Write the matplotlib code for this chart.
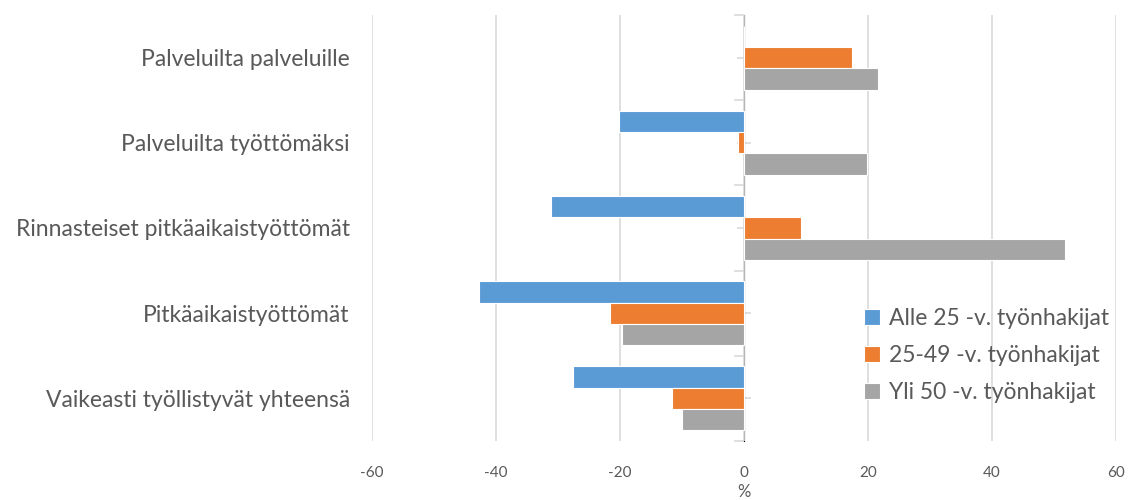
import matplotlib
matplotlib.use("Agg")
import matplotlib.pyplot as plt
import numpy as np

categories = ["Palveluilta palveluille", "Palveluilta työttömäksi",
              "Rinnasteiset pitkäaikaistyöttömät", "Pitkäaikaistyöttömät",
              "Vaikeasti työllistyvät yhteensä"]
series_names = ["Alle 25 -v. työnhakijat", "25-49 -v. työnhakijat", "Yli 50 -v. työnhakijat"]
alle25 = [0.0, -20.1, -31.1, -42.7, -27.6]
v25_49 = [17.4, -1.0, 9.2, -21.6, -11.6]
yli50 = [21.6, 19.9, 51.7, -19.6, -10.0]
x_ticks = [-60, -40, -20, 0, 20, 40, 60]
x_label = "%"

colors = ["#5B9BD5", "#ED7D31", "#A5A5A5"]
text_color = "#595959"
grid_color = "#D9D9D9"
font = ["Lato", "DejaVu Sans"]
plt.rcParams["font.family"] = font

fig = plt.figure(figsize=(11.28, 5.0), dpi=100)
ax = fig.add_axes([372/1128, 1-441/500, (1116-372)/1128, (441-15)/500])

y = np.arange(len(categories))
h = 0.25
for i, (vals, name) in enumerate(zip([alle25, v25_49, yli50], series_names)):
    ax.barh(y + (i - 1) * h, vals, height=h, color=colors[i], label=name,
            edgecolor="white", linewidth=0.8, zorder=3)

ax.set_xlim(-60, 60)
ax.set_ylim(len(categories) - 0.5, -0.5)
ax.set_xticks(x_ticks)
ax.set_xticklabels([str(t) for t in x_ticks])
ax.tick_params(axis="x", length=0, pad=18, labelsize=11, labelcolor=text_color)
ax.grid(axis="x", color=grid_color, linewidth=1.2, zorder=0)
ax.set_axisbelow(True)

ax.set_yticks(y)
ax.set_yticklabels(categories)
ax.tick_params(axis="y", length=0, pad=16, labelsize=16.5, labelcolor=text_color)

for s in ["top", "right", "bottom", "left"]:
    ax.spines[s].set_visible(False)

sec = ax.secondary_yaxis(0.5)
sec.spines["left"].set_color(grid_color)
sec.spines["left"].set_linewidth(1.2)
sec.set_yticks(np.arange(len(categories) + 1) - 0.5)
sec.set_yticklabels([])
sec.tick_params(axis="y", which="major", direction="in", length=7, color=grid_color, width=1.2)
sec.set_yticks(y, minor=True)
sec.tick_params(axis="y", which="minor", direction="inout", length=10, color=grid_color, width=1.2)
sec.set_yticklabels([], minor=True)

ax.set_xlabel(x_label, color=text_color, fontsize=12, labelpad=3)

leg = ax.legend(loc="upper left", bbox_to_anchor=(855/1128, 1-299/500),
                bbox_transform=fig.transFigure, frameon=False,
                fontsize=16.5, handlelength=0.7, handleheight=0.7,
                handletextpad=0.4, labelspacing=0.7, borderaxespad=0)
for t in leg.get_texts():
    t.set_color(text_color)

fig.savefig("out.png", dpi=100)
